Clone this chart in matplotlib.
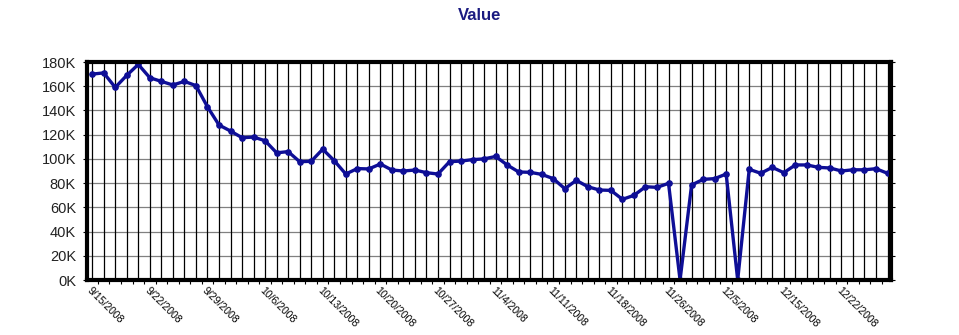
import matplotlib
matplotlib.use("Agg")
import matplotlib.pyplot as plt
import numpy as np
from matplotlib.ticker import FuncFormatter

plt.rcParams['font.family'] = ['Liberation Sans', 'DejaVu Sans']

# values in thousands, one per trading day (70 points)
values_k = [170, 171, 159, 169, 178, 167, 164, 161, 164, 160.5,
            143, 128, 123, 117.5, 118, 115, 105, 106, 97.7, 98,
            108, 98.5, 87.5, 92, 91.7, 95.8, 90.8, 90, 90.8, 88.6,
            87.5, 97.7, 98.2, 99.4, 100, 102, 95, 89.2, 88.9, 87.2,
            83.7, 75.4, 82.3, 77, 74.3, 74, 66.6, 69.9, 77, 76.5,
            79.8, 0, 78.4, 83.1, 83.7, 87.5, 0, 91.4, 88.1, 93,
            88.6, 95, 95, 93, 92.5, 90, 91, 91, 91.9, 88.1]
tick_labels = ['9/15/2008', '9/22/2008', '9/29/2008', '10/6/2008', '10/13/2008',
               '10/20/2008', '10/27/2008', '11/4/2008', '11/11/2008', '11/18/2008',
               '11/26/2008', '12/5/2008', '12/15/2008', '12/22/2008']
label_step = 5

values = np.array(values_k) * 1000
x = np.arange(len(values))

fig = plt.figure(figsize=(9.59, 3.35), dpi=100)
ax = fig.add_axes([87 / 959, 1 - 280 / 335, (891 - 87) / 959, (280 - 62) / 335])

# gridlines: vertical black at every point, horizontal grey
for i in x:
    ax.axvline(i, color='black', lw=0.9, zorder=1)
ax.set_ylim(0, 180000)
ax.set_yticks(np.arange(0, 180001, 20000))
ax.yaxis.grid(True, color='#808080', lw=0.9, zorder=1)
ax.set_axisbelow(True)

ax.plot(x, values, color='#0e0e96', lw=2.4, marker='o', ms=3.8,
        markerfacecolor='#0e0e96', markeredgecolor='#0e0e96', zorder=3)

ax.set_xlim(-0.45, len(values) - 0.7)
ax.set_xticks(x[::label_step])
ax.set_xticklabels(tick_labels, rotation=-45, ha='left', va='top',
                   rotation_mode='anchor', fontsize=7.5)
ax.set_xticks(x[:-1] + 0.5, minor=True)
ax.tick_params(axis='x', which='major', length=0, pad=4)
ax.tick_params(axis='x', which='minor', length=3, width=0.8, direction='out')

ax.yaxis.set_major_formatter(FuncFormatter(lambda v, p: f'{int(v / 1000)}K'))
ax.tick_params(axis='y', length=3, width=0.8, right=True, labelsize=10.5,
               labelcolor='#222222', pad=5)

for s in ax.spines.values():
    s.set_linewidth(3)
    s.set_color('black')
    s.set_zorder(4)

fig.text(0.5, 1 - 15 / 335, 'Value', ha='center', va='center',
         fontsize=12, fontweight='bold', color='#1a1a80')

fig.savefig('out.png', dpi=100)
